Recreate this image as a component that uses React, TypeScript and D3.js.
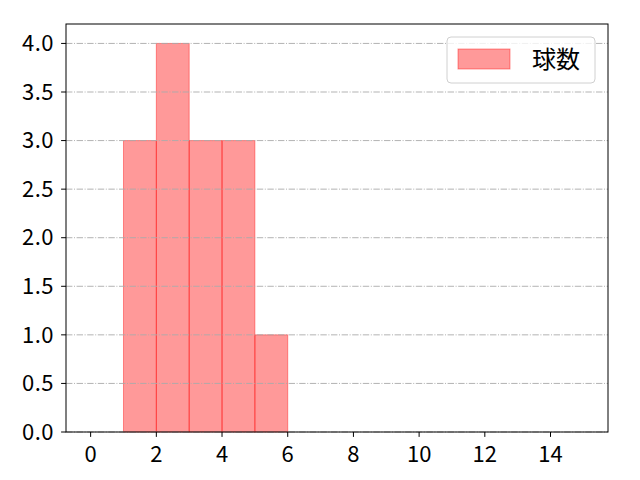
import React from 'react';
import * as d3 from 'd3';

// histogram bins (left edge) and counts
const binStarts = [1, 2, 3, 4, 5];
const binWidth = 1;
const counts = [3, 4, 3, 3, 1];
const xTicks = [0, 2, 4, 6, 8, 10, 12, 14];
const yTicks = [0, 0.5, 1, 1.5, 2, 2.5, 3, 3.5, 4];
const seriesName = '球数';

const width = 640;
const height = 480;
const margin = { l: 66, r: 32, t: 24, b: 48 };

export default function App() {
  const innerW = width - margin.l - margin.r;
  const innerH = height - margin.t - margin.b;

  const x = d3.scaleLinear().domain([-0.75, 15.75]).range([0, innerW]);
  const y = d3.scaleLinear().domain([0, 4.2]).range([innerH, 0]);

  const font = "'Noto Sans CJK JP', sans-serif";

  return (
    <svg
      width={width}
      height={height}
      style={{ position: 'absolute', left: 0, top: 0, background: '#fff' }}
    >
      <g transform={`translate(${margin.l},${margin.t})`}>
        {binStarts.map((b, i) => (
          <rect
            key={i}
            x={x(b)}
            y={y(counts[i])}
            width={x(b + binWidth) - x(b)}
            height={innerH - y(counts[i])}
            fill="rgb(255,0,0)"
            fillOpacity={0.4}
            stroke="rgb(255,0,0)"
            strokeOpacity={0.4}
            strokeWidth={1}
          />
        ))}
        {yTicks.map((t) => (
          <line
            key={t}
            x1={0}
            x2={innerW}
            y1={y(t)}
            y2={y(t)}
            stroke="#aaaaaa"
            strokeWidth={0.9}
            strokeDasharray="6.4,1.6,1,1.6"
          />
        ))}
        <rect
          x={0}
          y={0}
          width={innerW}
          height={innerH}
          fill="none"
          stroke="#000"
          strokeWidth={1}
        />
        {yTicks.map((t) => (
          <g key={t} transform={`translate(0,${y(t)})`}>
            <line x1={-4.9} x2={0} stroke="#000" strokeWidth={1} />
            <text
              x={-12}
              dy="0.35em"
              textAnchor="end"
              fontFamily={font}
              fontSize={22}
              letterSpacing={0.5}
              fill="#000"
            >
              {d3.format('.1f')(t)}
            </text>
          </g>
        ))}
        {xTicks.map((t) => (
          <g key={t} transform={`translate(${x(t)},${innerH})`}>
            <line y1={0} y2={4.9} stroke="#000" strokeWidth={1} />
            <text
              y={22}
              dy="0.35em"
              textAnchor="middle"
              fontFamily={font}
              fontSize={22}
              fill="#000"
            >
              {t}
            </text>
          </g>
        ))}
      </g>
      {/* legend */}
      <g transform="translate(447,37)">
        <rect
          width={148}
          height={46}
          rx={4}
          fill="#fff"
          fillOpacity={0.8}
          stroke="#d0d0d0"
          strokeWidth={1}
        />
        <rect
          x={11}
          y={12}
          width={52}
          height={20}
          fill="rgb(255,0,0)"
          fillOpacity={0.4}
          stroke="rgb(255,0,0)"
          strokeOpacity={0.4}
        />
        <text
          x={85}
          y={23}
          dy="0.35em"
          fontFamily={font}
          fontSize={24}
          fill="#000"
        >
          {seriesName}
        </text>
      </g>
    </svg>
  );
}
